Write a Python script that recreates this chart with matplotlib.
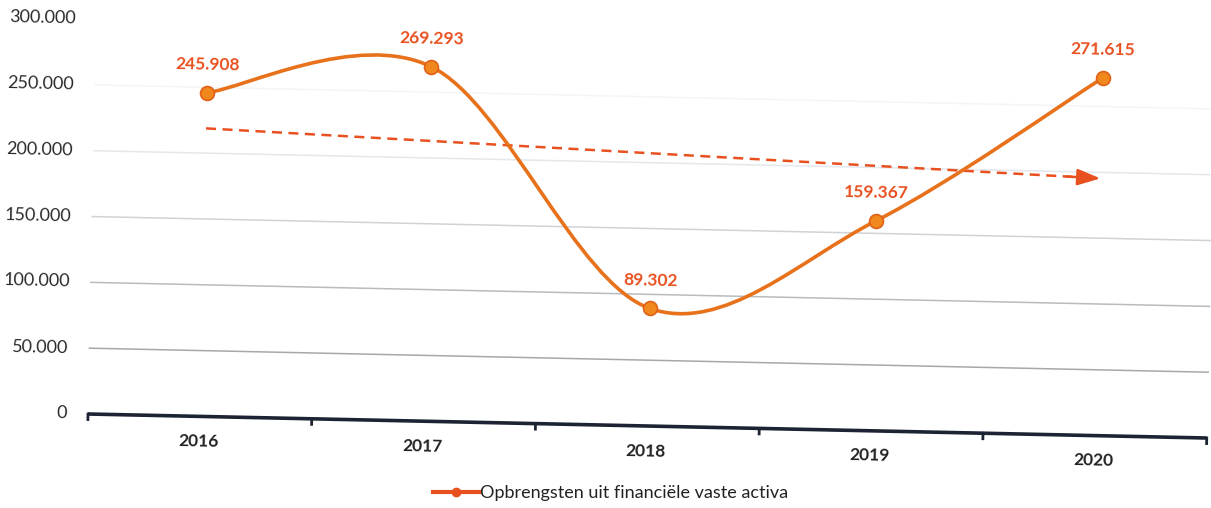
import numpy as np
import matplotlib.pyplot as plt
from matplotlib.transforms import Affine2D
from matplotlib.path import Path
from matplotlib.patches import PathPatch
from matplotlib.lines import Line2D

plt.rcParams['font.family'] = ['Lato', 'DejaVu Sans']

years = ['2016', '2017', '2018', '2019', '2020']
values = [245908, 269293, 89302, 159367, 271615]
value_labels = ['245.908', '269.293', '89.302', '159.367', '271.615']
yticks = [0, 50000, 100000, 150000, 200000, 250000, 300000]
ytick_labels = ['0', '50.000', '100.000', '150.000', '200.000', '250.000', '300.000']
series_name = 'Opbrengsten uit financiële vaste activa'

ORANGE = '#e8721c'
RED = '#e8501f'
grid_colors = ['#1c2433', '#a8a8a8', '#b8bbbf', '#cfd2d6', '#e4e7eb', '#f5f5f5', '#ffffff']

W, H = 1211, 508
fig = plt.figure(figsize=(W / 100, H / 100), dpi=100)
# pivot of the (scanned) tilt at the bottom-left corner of the plot area
px, py = 88, 94
ax = fig.add_axes([px / W, py / H, 1119 / W, 395 / H])
ax.set_xlim(-0.5, 4.5)
ax.set_ylim(0, 300000)
ax.axis('off')

ANG = -1.23
tilt = Affine2D().rotate_deg_around(px, py, ANG)
tdata = ax.transData + tilt


def shifted(dx, dy):
    return ax.transData + Affine2D().translate(dx, dy) + tilt


# gridlines + axis
for v, c in zip(yticks, grid_colors):
    if v == 0:
        continue
    ax.plot([-0.5, 4.5], [v, v], color=c, lw=1.1, transform=tdata, clip_on=False, zorder=1)
ax.plot([-0.5, 4.5], [0, 0], color=grid_colors[0], lw=2.6, transform=tdata,
        clip_on=False, zorder=2, solid_capstyle='butt')
for b in np.arange(-0.5, 5.0, 1.0):
    ax.plot([b, b], [0, -4200], color=grid_colors[0], lw=2, transform=tdata,
            clip_on=False, zorder=2)

# y tick labels
for v, lbl in zip(yticks, ytick_labels):
    ax.text(-0.5, v, lbl, transform=shifted(-21, 0), ha='right', va='center',
            fontsize=13, color='#2b2b2b', rotation=ANG, rotation_mode='anchor')

# x tick labels
x = np.arange(len(years))
for xi, yr in zip(x, years):
    ax.text(xi, 0, yr, transform=shifted(-1, -25), ha='center', va='center',
            fontsize=12.5, fontweight='bold', color='#222222', rotation=ANG)

# smoothed line (cubic Bezier through the points, Excel style)
pts = np.column_stack([x, values]).astype(float)
ext = np.vstack([pts[0], pts, pts[-1]])
verts = [pts[0]]
codes = [Path.MOVETO]
for i in range(len(pts) - 1):
    p0, p1, p2, p3 = ext[i], ext[i + 1], ext[i + 2], ext[i + 3]
    verts += [p1 + (p2 - p0) / 6, p2 - (p3 - p1) / 6, p2]
    codes += [Path.CURVE4] * 3
ax.add_patch(PathPatch(Path(verts, codes), facecolor='none', edgecolor=ORANGE,
                       lw=2.6, transform=tdata, clip_on=False, zorder=4))
ax.plot(x, values, 'o', ms=10, mfc='#f0881e', mec='#e0621a', mew=1.2,
        transform=tdata, clip_on=False, zorder=5)

# data labels
for xi, v, lbl in zip(x, values, value_labels):
    ax.text(xi, v, lbl, transform=shifted(0, 28), ha='center', va='center',
            fontsize=12.5, fontweight='bold', color=RED, rotation=ANG)

# linear trend line with arrow
k, c0 = np.polyfit(x, values, 1)
xe = 3.93
ax.plot([0, xe], [c0, c0 + k * xe], color=RED, lw=1.8, ls=(0, (4, 2.6)),
        transform=tdata, clip_on=False, zorder=3)
ax.annotate('', xy=(4, c0 + k * 4), xytext=(3.85, c0 + k * 3.85),
            xycoords=tdata, textcoords=tdata,
            arrowprops=dict(arrowstyle='-|>,head_length=0.7,head_width=0.25',
                            color=RED, lw=1.8, shrinkA=0, shrinkB=0,
                            mutation_scale=20), zorder=3)

# legend
handle = Line2D([], [], color=RED, lw=3, marker='o', ms=6, mfc=RED, mec=RED)
fig.legend([handle], [series_name], loc='center', bbox_to_anchor=(611 / W, 15 / H),
           frameon=False, fontsize=13, handlelength=2.5, handletextpad=0.1,
           labelcolor='#222222')

fig.savefig('out.png', dpi=100)
